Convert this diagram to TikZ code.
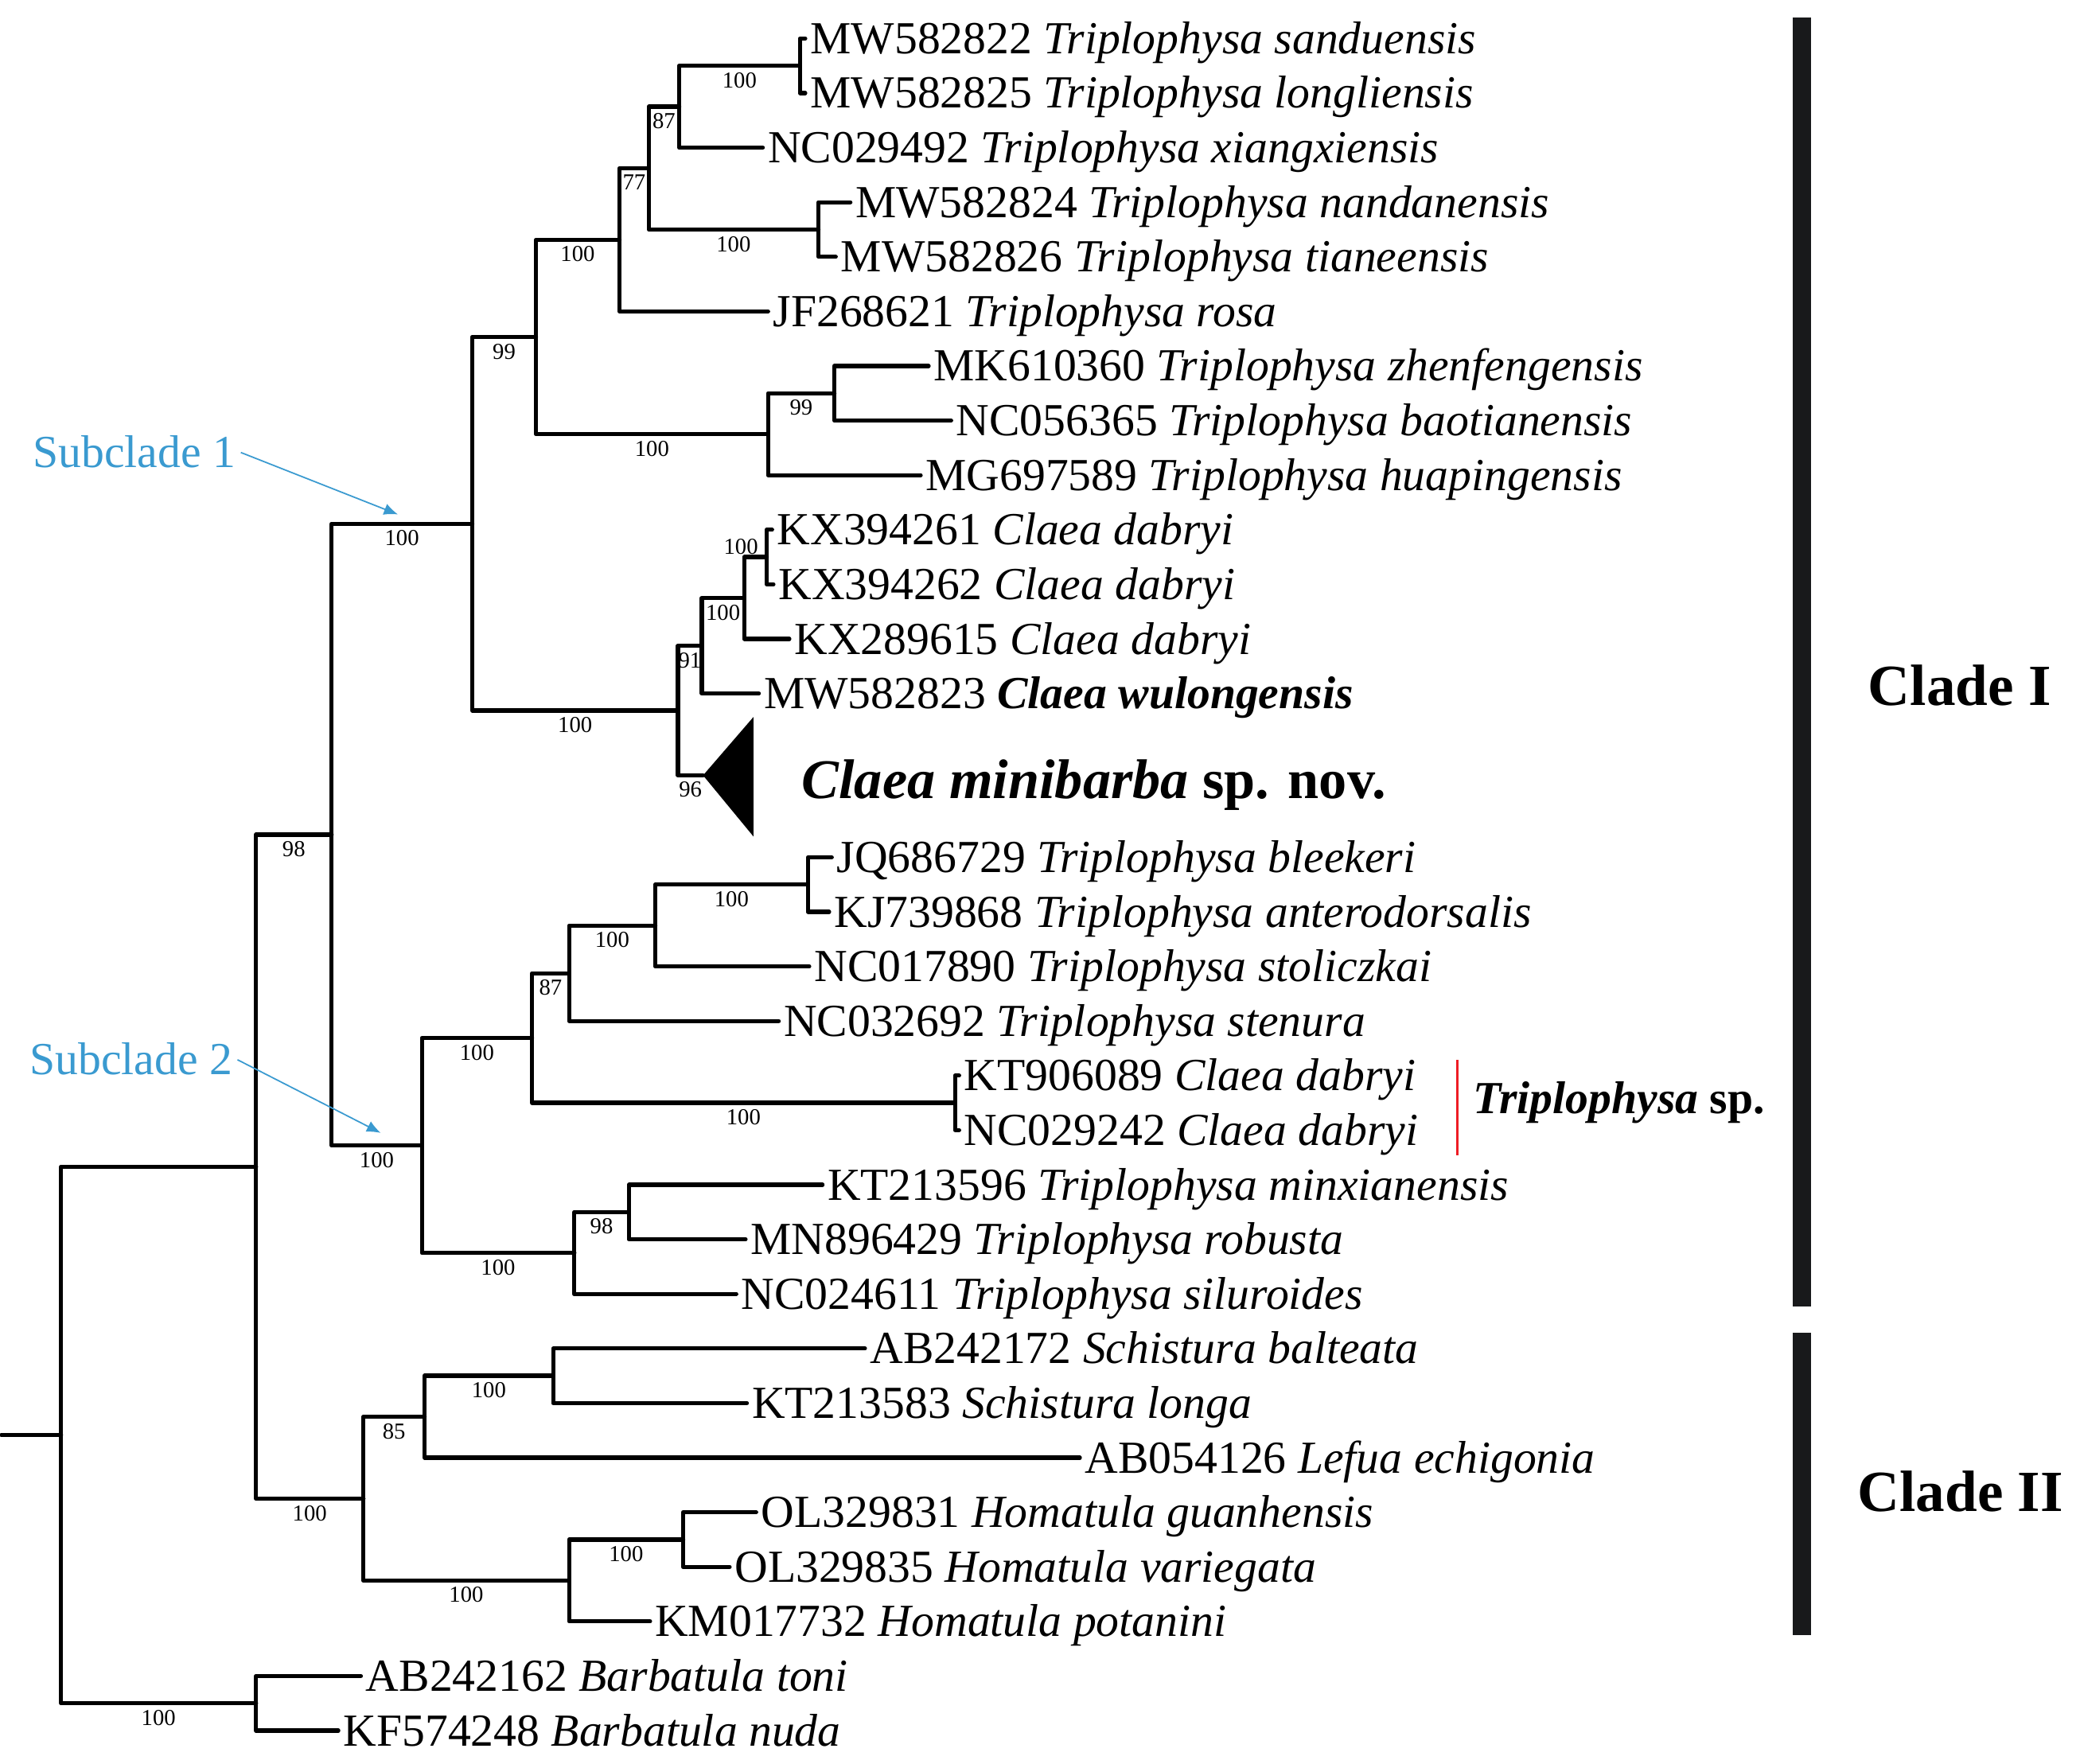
\documentclass[tikz,border=0pt]{standalone}
\usepackage{fontspec}
\setmainfont{Liberation Serif}
\usetikzlibrary{arrows.meta}
\definecolor{subblue}{HTML}{3A9AD0}
\definecolor{cladebar}{HTML}{18191B}
\definecolor{spred}{HTML}{EE1C24}
\newcommand{\taxon}[2]{#1 \textit{#2}}

\begin{document}
\begin{tikzpicture}[x=0.02cm,y=-0.8232cm,
  branch/.style={line width=1.8pt,line cap=round,line join=round},
  leaf/.style={anchor=west,inner sep=2pt,text height=13pt,text depth=0pt,font=\fontsize{19.7}{22}\selectfont},
  bs/.style={pos=0.75,below=2pt,inner sep=0pt,font=\fontsize{9.8}{11}\selectfont},
  sub/.style={subblue,line width=0.6pt,-{Latex[length=6pt,width=5pt]}},
  clade/.style={anchor=west,inner sep=0pt,text height=16.5pt,text depth=0pt,font=\fontsize{25}{28}\selectfont\bfseries}]
  \useasboundingbox (0,-0.7046) rectangle (1568,31.608);

  \node[leaf] (t0) at (607,0) {\taxon{MW582822}{Triplophysa sanduensis}};
  \node[leaf] (t1) at (607,1) {\taxon{MW582825}{Triplophysa longliensis}};
  \node[leaf] (t2) at (575,2) {\taxon{NC029492}{Triplophysa xiangxiensis}};
  \node[leaf] (t3) at (641,3) {\taxon{MW582824}{Triplophysa nandanensis}};
  \node[leaf] (t4) at (630,4) {\taxon{MW582826}{Triplophysa tianeensis}};
  \node[leaf] (t5) at (579,5) {\taxon{JF268621}{Triplophysa rosa}};
  \node[leaf] (t6) at (700,6) {\taxon{MK610360}{Triplophysa zhenfengensis}};
  \node[leaf] (t7) at (717,7) {\taxon{NC056365}{Triplophysa baotianensis}};
  \node[leaf] (t8) at (694,8) {\taxon{MG697589}{Triplophysa huapingensis}};
  \node[leaf] (t9) at (582,9) {\taxon{KX394261}{Claea dabryi}};
  \node[leaf] (t10) at (583,10) {\taxon{KX394262}{Claea dabryi}};
  \node[leaf] (t11) at (595,11) {\taxon{KX289615}{Claea dabryi}};
  \node[leaf] (t12) at (572,12) {MW582823 \textbf{\textit{Claea wulongensis}}};
  \node[leaf] (t15) at (627,15) {\taxon{JQ686729}{Triplophysa bleekeri}};
  \node[leaf] (t16) at (625,16) {\taxon{KJ739868}{Triplophysa anterodorsalis}};
  \node[leaf] (t17) at (610,17) {\taxon{NC017890}{Triplophysa stoliczkai}};
  \node[leaf] (t18) at (587,18) {\taxon{NC032692}{Triplophysa stenura}};
  \node[leaf] (t19) at (723,19) {\taxon{KT906089}{Claea dabryi}};
  \node[leaf] (t20) at (723,20) {\taxon{NC029242}{Claea dabryi}};
  \node[leaf] (t21) at (620,21) {\taxon{KT213596}{Triplophysa minxianensis}};
  \node[leaf] (t22) at (562,22) {\taxon{MN896429}{Triplophysa robusta}};
  \node[leaf] (t23) at (555,23) {\taxon{NC024611}{Triplophysa siluroides}};
  \node[leaf] (t24) at (652,24) {\taxon{AB242172}{Schistura balteata}};
  \node[leaf] (t25) at (563,25) {\taxon{KT213583}{Schistura longa}};
  \node[leaf] (t26) at (814,26) {\taxon{AB054126}{Lefua echigonia}};
  \node[leaf] (t27) at (570,27) {\taxon{OL329831}{Homatula guanhensis}};
  \node[leaf] (t28) at (550,28) {\taxon{OL329835}{Homatula variegata}};
  \node[leaf] (t29) at (490,29) {\taxon{KM017732}{Homatula potanini}};
  \node[leaf] (t30) at (272,30) {\taxon{AB242162}{Barbatula toni}};
  \node[leaf] (t31) at (255,31) {\taxon{KF574248}{Barbatula nuda}};

  \coordinate (stub) at (1,25.584);
  \coordinate (root) at (46,25.584);
  \coordinate (nA) at (193,20.668);
  \coordinate (nB) at (193,30.5);
  \coordinate (nC) at (250,14.586);
  \coordinate (nD) at (274,26.75);
  \coordinate (nE) at (356,8.8906);
  \coordinate (nF) at (318,20.281);
  \coordinate (nG) at (404,5.4688);
  \coordinate (nH) at (511,12.3125);
  \coordinate (nI) at (467,3.6875);
  \coordinate (nJ) at (579,7.25);
  \coordinate (nK) at (489,2.375);
  \coordinate (nL) at (512,1.25);
  \coordinate (nM) at (617,3.5);
  \coordinate (nN) at (603,0.5);
  \coordinate (nP) at (629,6.5);
  \coordinate (nQ) at (529,11.125);
  \coordinate (nR) at (561,10.25);
  \coordinate (nS) at (578,9.5);
  \coordinate (tri) at (530,13.5);
  \coordinate (nT) at (401,18.3125);
  \coordinate (nU) at (433,22.25);
  \coordinate (nV) at (429,17.125);
  \coordinate (nW) at (720,19.5);
  \coordinate (nX) at (494,16.25);
  \coordinate (nY) at (609,15.5);
  \coordinate (nZ) at (474,21.5);
  \coordinate (nAA) at (320,25.25);
  \coordinate (nAB) at (429,28.25);
  \coordinate (nAC) at (417,24.5);
  \coordinate (nAD) at (515,27.5);

  \draw[branch] (stub) -- (root);
  \draw[branch] (root) |- (nA) (root) |- node[bs] {100} (nB);
  \draw[branch] (nB) |- (t30.west) (nB) |- (t31.west);
  \draw[branch] (nA) |- node[bs] {98} (nC) (nA) |- node[bs] {100} (nD);
  \draw[branch] (nC) |- node[bs] {100} (nE) (nC) |- node[bs] {100} (nF);
  \draw[branch] (nE) |- node[bs] {99} (nG) (nE) |- node[bs] {100} (nH);
  \draw[branch] (nG) |- node[bs] {100} (nI) (nG) |- node[bs] {100} (nJ);
  \draw[branch] (nI) |- node[bs] {77} (nK) (nI) |- (t5.west);
  \draw[branch] (nK) |- node[bs] {87} (nL) (nK) |- node[bs] {100} (nM);
  \draw[branch] (nL) |- node[bs] {100} (nN) (nL) |- (t2.west);
  \draw[branch] (nN) |- (t0.west) (nN) |- (t1.west);
  \draw[branch] (nM) |- (t3.west) (nM) |- (t4.west);
  \draw[branch] (nJ) |- node[bs] {99} (nP) (nJ) |- (t8.west);
  \draw[branch] (nP) |- (t6.west) (nP) |- (t7.west);
  \draw[branch] (nH) |- node[bs] {91} (nQ) (nH) |- node[bs] {96} (tri);
  \draw[branch] (nQ) |- node[bs] {100} (nR) (nQ) |- (t12.west);
  \draw[branch] (nR) |- (nS) (nR) |- (t11.west);
  \draw[branch] (nS) |- (t9.west) (nS) |- (t10.west);
  \node[font=\fontsize{9.8}{11}\selectfont,inner sep=0pt] at (558.5,9.305) {100};
  \fill (tri) -- (568,12.43) -- (568,14.62) -- cycle;
  \node[anchor=west,inner sep=2pt,text height=16pt,text depth=0pt,font=\fontsize{24}{28}\selectfont\bfseries] (cmin) at (600.5,13.58) {\textit{Claea minibarba} sp. nov.};
  \draw[branch] (nF) |- node[bs] {100} (nT) (nF) |- node[bs] {100} (nU);
  \draw[branch] (nT) |- node[bs] {87} (nV) (nT) |- node[bs] {100} (nW);
  \draw[branch] (nV) |- node[bs] {100} (nX) (nV) |- (t18.west);
  \draw[branch] (nX) |- node[bs] {100} (nY) (nX) |- (t17.west);
  \draw[branch] (nY) |- (t15.west) (nY) |- (t16.west);
  \draw[branch] (nW) |- (t19.west) (nW) |- (t20.west);
  \draw[branch] (nU) |- node[bs] {98} (nZ) (nU) |- (t23.west);
  \draw[branch] (nZ) |- (t21.west) (nZ) |- (t22.west);
  \draw[branch] (nD) |- node[bs] {85} (nAA) (nD) |- node[bs] {100} (nAB);
  \draw[branch] (nAA) |- node[bs] {100} (nAC) (nAA) |- (t26.west);
  \draw[branch] (nAC) |- (t24.west) (nAC) |- (t25.west);
  \draw[branch] (nAB) |- node[bs] {100} (nAD) (nAB) |- (t29.west);
  \draw[branch] (nAD) |- (t27.west) (nAD) |- (t28.west);

  \node[leaf,subblue] (sub1) at (21,7.585) {Subclade 1};
  \node[leaf,subblue] (sub2) at (18.5,18.71) {Subclade 2};
  \coordinate (tip1) at (300,8.72);
  \coordinate (tip2) at (287,20.05);
  \draw[sub] (sub1.east) -- (tip1);
  \draw[sub] (sub2.east) -- (tip2);

  \fill[cladebar] (1351.5,-0.384) rectangle (1365,23.23);
  \fill[cladebar] (1351.5,23.71) rectangle (1365,29.25);
  \node[clade] (cladeI) at (1408,11.87) {Clade I};
  \node[clade] (cladeII) at (1400,26.63) {Clade II};
  \draw[spred,line width=1.1pt] (1098.5,18.71) -- (1098.5,20.46);
  \node[leaf,font=\fontsize{19.7}{22}\selectfont\bfseries] (tsp) at (1106.5,19.42) {\textit{Triplophysa} sp.};
\end{tikzpicture}
\end{document}
